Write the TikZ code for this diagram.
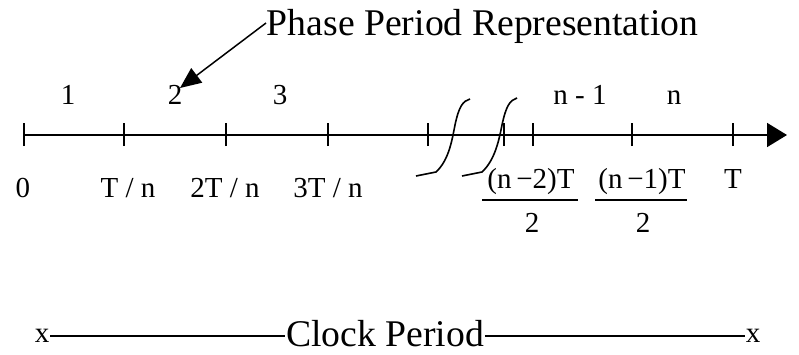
\documentclass[tikz,border=0pt]{standalone}
\usepackage{fontspec}
\setmainfont{Liberation Serif}
\usetikzlibrary{arrows.meta}
\begin{document}
\begin{tikzpicture}[x=1pt,y=-1pt,line width=1.8pt,
  lbl/.style={font=\fontsize{29}{31}\selectfont,inner sep=0pt,anchor=base},
  big/.style={font=\fontsize{37.7}{40}\selectfont,inner sep=0pt},
  tickmark/.style={line width=1.8pt},
  breakline/.style={line width=1.6pt}]
\useasboundingbox (0,0) rectangle (799,354);
% axis
\coordinate (a0) at (24,135);
\coordinate (a1) at (124,135);
\coordinate (a2) at (226,135);
\coordinate (a3) at (328,135);
\coordinate (a4) at (428,135);
\coordinate (a5) at (504,135);
\coordinate (a6) at (533,135);
\coordinate (a7) at (632,135);
\coordinate (a8) at (733,135);
\coordinate (aend) at (787,135);
\draw[-{Triangle[length=20pt,width=24pt]}] (a0) -- (aend);
\foreach \i in {0,...,8}{
  \draw[tickmark] ([yshift=-11pt]a\i) -- ([yshift=12pt]a\i);
}
% break marks
\draw[breakline] (416,176) -- (436,172) .. controls (449,160) and (452,140) .. (455,125)
   .. controls (459,106) and (463,101) .. (470,99);
\draw[breakline] (462,176) -- (482,172) .. controls (495,160) and (499,140) .. (502,125)
   .. controls (506,106) and (510,100) .. (517,98);
% top labels
\node[lbl] (t1) at (68,104) {1};
\node[lbl] (t2) at (175,104) {2};
\node[lbl] (t3) at (280,104) {3};
\node[lbl] (tn1) at (580,104) {n - 1};
\node[lbl] (tn) at (674,104) {n};
% bottom labels
\node[lbl] (b0) at (23,197) {0};
\node[lbl] (b1) at (128,197) {T / n};
\node[lbl] (b2) at (225,197) {2T / n};
\node[lbl] (b3) at (328,197) {3T / n};
\node[lbl] (f1n) at (531,188) {(n\,−2)T};
\node[lbl] (f1d) at (532,232) {2};
\draw (482,200) -- (578,200);
\node[lbl] (f2n) at (642,188) {(n\,−1)T};
\node[lbl] (f2d) at (643,232) {2};
\draw (595,200) -- (687,200);
\node[lbl] (bT) at (733,188) {T};
% title with arrow
\node[big,anchor=base west] (phase) at (266,35) {Phase Period Representation};
\coordinate (tip) at (180,88);
\draw[line width=1.5pt,-{Triangle[length=21pt,width=18pt]}] (phase.west |- 0,23) -- (tip);
% clock period
\node[lbl] (xl) at (42,342) {x};
\node[lbl] (xr) at (753,342) {x};
\node[big,anchor=base] (clock) at (385,346) {Clock Period};
\draw (xl.east |- 0,336) -- (clock.west |- 0,336);
\draw (clock.east |- 0,336) -- (xr.west |- 0,336);
\end{tikzpicture}
\end{document}
